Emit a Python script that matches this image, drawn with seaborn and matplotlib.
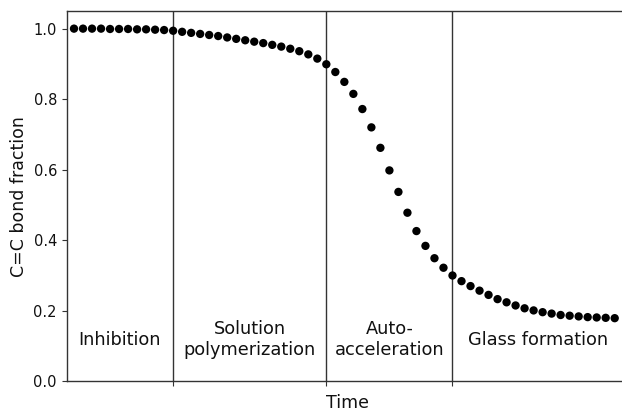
import matplotlib
matplotlib.use("Agg")
import matplotlib.pyplot as plt
import seaborn as sns
import pandas as pd

# ---- data ----
time_index = list(range(61))
cc_fraction = [
    1.000, 1.000, 1.000, 1.000, 0.999, 0.999, 0.999, 0.998, 0.998, 0.997,
    0.996, 0.994, 0.991, 0.988, 0.985, 0.982, 0.979, 0.975, 0.971, 0.967,
    0.963, 0.959, 0.954, 0.949, 0.943, 0.936, 0.927, 0.915, 0.899, 0.877,
    0.849, 0.815, 0.772, 0.720, 0.662, 0.598, 0.537, 0.478, 0.426, 0.384,
    0.349, 0.322, 0.300, 0.284, 0.270, 0.257, 0.245, 0.233, 0.224, 0.215,
    0.207, 0.201, 0.196, 0.192, 0.188, 0.186, 0.184, 0.182, 0.181, 0.180,
    0.179,
]
stage_boundaries = [11, 28, 42]
stage_labels = ["Inhibition", "Solution\npolymerization", "Auto-\nacceleration", "Glass formation"]
y_ticks = [0.0, 0.2, 0.4, 0.6, 0.8, 1.0]

df = pd.DataFrame({"Time": time_index, "C=C bond fraction": cc_fraction})

sns.set_style("ticks")
plt.rcParams["font.family"] = ["DejaVu Sans"]

fig = plt.figure(figsize=(6.22, 4.13), dpi=100)
ax = fig.add_axes([66.7 / 622, 31.7 / 413, (622 - 66.7) / 622 + 0.01, (381.3 - 11) / 413])

xmin, xmax = -0.81, 61.5
sns.scatterplot(data=df, x="Time", y="C=C bond fraction", ax=ax,
                color="black", s=36, edgecolor="none", zorder=3)

for b in stage_boundaries:
    ax.axvline(b, color="#333333", lw=1.0, zorder=1)

edges = [xmin] + stage_boundaries + [60.9]
for lbl, lo, hi in zip(stage_labels, edges[:-1], edges[1:]):
    ax.text((lo + hi) / 2, 0.118, lbl, ha="center", va="center",
            fontsize=12.8, color="#111111")

ax.set_xlim(xmin, xmax)
ax.set_ylim(0, 1.05)
ax.set_yticks(y_ticks)
ax.set_yticklabels([f"{v:.1f}" for v in y_ticks])
ax.set_xticks(stage_boundaries)
ax.set_xticklabels([])
ax.tick_params(axis="y", labelsize=10.5, length=3.5, color="#333333", labelcolor="#111111")
ax.tick_params(axis="x", length=3.5, color="#333333")
ax.set_xlabel("Time", fontsize=12.5, color="#111111", labelpad=2)
ax.set_ylabel("C=C bond fraction", fontsize=12.5, color="#111111", labelpad=4)
for side in ["left", "bottom", "top"]:
    ax.spines[side].set_color("#333333")
    ax.spines[side].set_linewidth(1.0)
ax.spines["right"].set_visible(False)

fig.savefig("out.png", dpi=100)
